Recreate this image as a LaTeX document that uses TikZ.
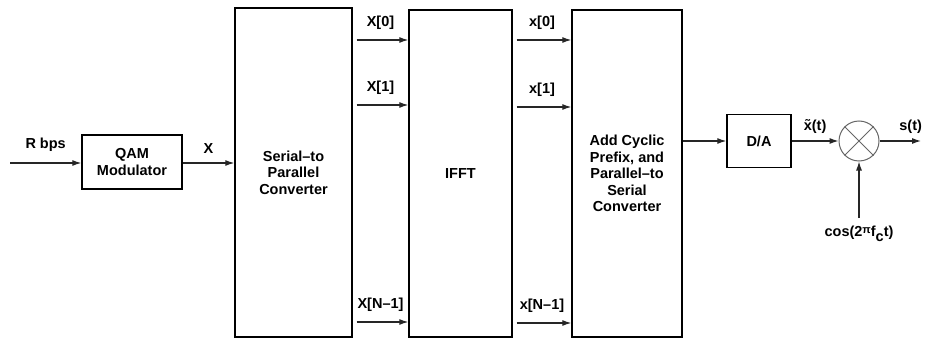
\documentclass[tikz,border=0pt]{standalone}
\usepackage{fontspec}
\setmainfont{Liberation Sans}
\usetikzlibrary{arrows.meta,calc}
\begin{document}
\begin{tikzpicture}[x=1pt,y=-1pt,
  every node/.style={font=\bfseries\fontsize{14.5}{16.5}\selectfont, inner sep=1pt},
  blk/.style={draw=black, line width=1.4pt, align=center, inner sep=0pt},
  arr/.style={draw=black!85, line width=1.1pt, -{Latex[length=9pt,width=6pt]}},
  lbl/.style={inner sep=1pt}]
\useasboundingbox (0,0) rectangle (926,342);
% blocks
\node[blk, minimum width=100pt, minimum height=54pt] (qam) at (132,162) {QAM\\Modulator};
\node[blk, minimum width=117pt, minimum height=329pt] (sp) at (293.5,172.5) {Serial–to\\Parallel\\Converter};
\node[blk, minimum width=103pt, minimum height=327pt] (ifft) at (460.5,173.5) {IFFT};
\node[blk, minimum width=110pt, minimum height=327pt] (cp) at (627,173.5) {Add Cyclic\\Prefix, and\\Parallel–to\\Serial\\Converter};
\node[blk, minimum width=64pt, minimum height=53pt] (da) at (759,141) {D/A};
\node[draw=black!60, line width=1pt, circle, minimum size=40pt, inner sep=0pt] (mix) at (859,141) {};
\draw[black!60, line width=1pt] (mix.north east) -- (mix.south west) (mix.north west) -- (mix.south east);
% free ends
\coordinate (in) at (10,163);
\coordinate (out) at (921,141);
\coordinate (cosin) at (859,218);
\coordinate (ya) at (0,40);
\coordinate (yb) at (0,105);
\coordinate (yc) at (0,322);
% input chain
\draw[arr] (in) -- (qam.west |- in) node[lbl, midway, above=10pt] {R bps};
\draw[arr] (qam.east |- in) -- (sp.west |- in) node[lbl, midway, above=8pt] {X};
% S/P -> IFFT
\draw[arr, shorten <=4pt] (sp.east |- ya) -- (ifft.west |- ya) node[lbl, midway, above=9pt] {X[0]};
\draw[arr, shorten <=4pt] (sp.east |- yb) -- (ifft.west |- yb) node[lbl, midway, above=9pt] {X[1]};
\draw[arr, shorten <=4pt] (sp.east |- yc) -- (ifft.west |- yc) node[lbl, midway, above=9pt] {X[N–1]};
% IFFT -> CP
\coordinate (za) at (0,40);
\coordinate (zb) at (0,107);
\coordinate (zc) at (0,323);
\draw[arr, shorten <=4pt] (ifft.east |- za) -- (cp.west |- za) node[lbl, midway, above=9pt] {x[0]};
\draw[arr, shorten <=4pt] (ifft.east |- zb) -- (cp.west |- zb) node[lbl, midway, above=9pt] {x[1]};
\draw[arr, shorten <=4pt] (ifft.east |- zc) -- (cp.west |- zc) node[lbl, midway, above=9pt] {x[N–1]};
% CP -> D/A -> mixer
\draw[arr] (cp.east |- da.west) -- (da.west);
\draw[arr] (da.east) -- (mix.west) node[lbl, midway, above=6pt] {\~{x}(t)};
\draw[arr] (mix.east) -- (out) node[lbl, pos=0.75, above=6pt] {s(t)};
\draw[arr] (cosin) -- (mix.south) node[lbl, at start, below=6pt] {cos(2{\raisebox{3pt}{\fontsize{11}{11}\selectfont π}}f\raisebox{-5pt}{c}t)};
\end{tikzpicture}
\end{document}
